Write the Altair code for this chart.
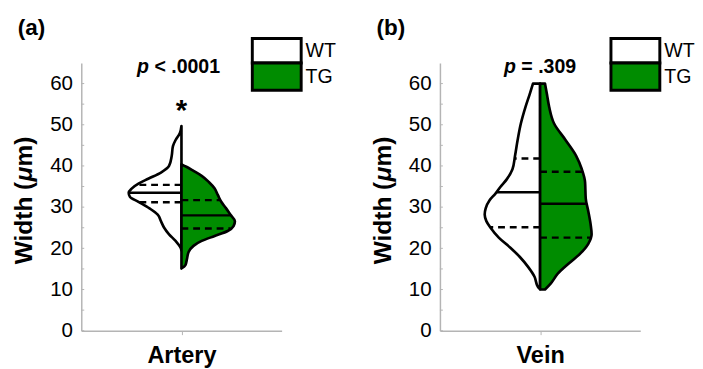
import altair as alt
import pandas as pd
import numpy as np

# ---------------- data ----------------
# Artery: violin half-profiles (value in µm, relative density width)
art_wt_v = [19.5, 20.2, 21.8, 23.4, 25.0, 26.6, 28.2, 29.7, 31.3, 32.5, 33.5, 34.5, 35.7, 36.9, 38.4, 40.0, 42.4, 44.8, 46.3, 47.9, 49.7]
art_wt_d = [0, 1, 6, 12.7, 17.7, 21, 24.3, 32.7, 44, 52.7, 54, 51, 44, 34, 21, 12.7, 10, 8.7, 6, 1.7, 0]
art_tg_v = [15.1, 15.9, 17.5, 19.1, 20.6, 21.8, 23.0, 24.2, 25.4, 26.6, 28.2, 29.7, 31.3, 32.9, 34.5, 36.1, 37.6, 38.8, 39.8, 40.4]
art_tg_d = [0, 4, 5.7, 7.3, 12.3, 20.7, 34, 47.3, 53.3, 54.7, 50, 45.7, 40.7, 37.3, 34, 28, 20.7, 12.3, 5, 0]
art_wt_q = [31.2, 33.5, 35.4]   # Q1, median, Q3
art_tg_q = [24.8, 28.0, 31.7]

# Vein
vein_wt_v = [10.1, 10.7, 13.1, 15.5, 17.9, 20.2, 22.6, 25.0, 26.6, 28.2, 29.7, 31.7, 33.3, 34.9, 36.8, 39.2, 42.4, 46.3, 50.3, 54.3, 57.4, 60.0]
vein_wt_d = [0, 2.3, 5.7, 12.3, 20.7, 30.7, 42.3, 50.7, 55, 56.7, 55.7, 51.7, 45.7, 40.7, 34, 28.3, 25.7, 23, 19.7, 15, 10.7, 7.3]
vein_tg_v = [10.0, 11.5, 13.9, 16.3, 18.7, 21.1, 23.4, 25.8, 29.0, 32.1, 36.1, 39.2, 42.4, 46.3, 50.3, 54.3, 57.4, 60.0]
vein_tg_d = [5, 11, 18.3, 29.3, 41, 49.3, 52.7, 51.7, 49.3, 46.7, 46, 42.7, 37, 26, 14.3, 9.3, 7, 5]
vein_wt_q = [25.1, 33.6, 41.8]
vein_tg_q = [22.6, 30.8, 38.6]

y_ticks = [0, 10, 20, 30, 40, 50, 60]
y_minor = [0, 5, 10, 15, 20, 25, 30, 35, 40, 45, 50, 55, 60]
groups = ["WT", "TG"]
group_colors = ["white", "#008c00"]

FONT = "Liberation Sans"
W, H = 205, 274
GRAY = "#b4b4b4"

yscale = alt.Scale(domain=[0, 65], nice=False, zero=True)
xscale = alt.Scale(domain=[-102.5, 102.5], nice=False, zero=False)

YAXIS = alt.Axis(values=y_ticks, grid=False, tickSize=0, labelPadding=9,
                 labelFontSize=21, labelFont=FONT, labelColor="black",
                 domainColor=GRAY, domainWidth=1.5, title=None)


def xaxis(cat):
    return alt.Axis(values=[0], labels=False, grid=False, tickSize=4,
                    tickColor=GRAY, domainColor=GRAY, domainWidth=1.5,
                    title=cat, titleFont=FONT, titleFontSize=24,
                    titleFontWeight="bold", titleColor="black", titlePadding=9)


def panel(tag, cat, wt_v, wt_d, tg_v, tg_d, wt_q, tg_q, p_op, star):
    XA = xaxis(cat)
    wt = pd.DataFrame({"v": wt_v, "x": [-d for d in wt_d]})
    tg = pd.DataFrame({"v": tg_v, "x": tg_d})

    def half(df, fill):
        return alt.Chart(df).mark_area(
            orient="horizontal", interpolate="monotone", fill=fill,
            stroke="black", strokeWidth=2.7, strokeJoin="round"
        ).encode(y=alt.Y("v:Q", scale=yscale, axis=YAXIS),
                 x=alt.X("x:Q", scale=xscale, axis=XA), x2=alt.datum(0))

    def qlines(q, v, d, sign):
        ends = [sign * float(np.interp(val, v, d)) for val in q]
        df = pd.DataFrame({"v": q, "x1": ends, "x": [0.0] * len(q), "kind": ["d", "m", "d"]})
        out = []
        for kind, dash in (("d", [7, 5]), ("m", [1, 0])):
            out.append(alt.Chart(df[df.kind == kind]).mark_rule(
                stroke="black", strokeWidth=2.5, strokeDash=dash
            ).encode(y=alt.Y("v:Q", scale=yscale, axis=YAXIS),
                     x=alt.X("x:Q", scale=xscale, axis=XA), x2="x1:Q"))
        return out

    minor = alt.Chart(pd.DataFrame({"v": y_minor})).mark_rule(
        stroke=GRAY, strokeWidth=1
    ).encode(y=alt.Y("v:Q", scale=yscale, axis=YAXIS), x=alt.value(0), x2=alt.value(3))

    def txt(s, x, y, size, weight="bold", style="normal", align="left", angle=0):
        return alt.Chart(pd.DataFrame({"s": [s]})).mark_text(
            font=FONT, fontSize=size, fontWeight=weight, fontStyle=style, align=align,
            baseline="middle", angle=angle, color="black"
        ).encode(text="s:N", x=alt.value(x), y=alt.value(y))

    # y-axis title with italic mu
    yt_x, yt_b, fs = -58, 206, 25
    ytitle = [
        txt("Width (", yt_x, yt_b, fs, angle=270),
        txt("\u03bc", yt_x, yt_b - 84.7, fs, style="italic", angle=270),
        txt("m)", yt_x, yt_b - 84.7 - 15.3, fs, angle=270),
    ]

    # p-value annotation
    p_start = 57 if star else 65.5
    ptxt = [txt("p", p_start, 4, 20, style="italic"), txt(p_op, p_start + 12.2 + 5.6, 4, 20)]

    extras = [txt(tag, -65, -36, 23)] + ytitle + ptxt
    if star:
        extras.append(alt.Chart(pd.DataFrame({"s": ["*"], "x": [0.0]})).mark_text(
            font=FONT, fontSize=30, fontWeight="bold", baseline="alphabetic", color="black"
        ).encode(text="s:N", x=alt.X("x:Q", scale=xscale, axis=XA), y=alt.value(58)))

    # legend boxes
    leg_rows = [(-25, 0), (0, 28)]
    legend = []
    for (y0, y1), g, c in zip(leg_rows, groups, group_colors):
        legend.append(alt.Chart(pd.DataFrame({"g": [g]})).mark_rect(
            fill=c, stroke="black", strokeWidth=3
        ).encode(x=alt.value(175), x2=alt.value(225), y=alt.value(y0), y2=alt.value(y1)))
        legend.append(txt(g, 229.5, (y0 + y1) / 2, 20, weight="normal"))

    layers = [half(wt, "white"), half(tg, "#008c00")]
    layers += qlines(wt_q, wt_v, wt_d, -1) + qlines(tg_q, tg_v, tg_d, 1)
    layers += [minor] + extras + legend
    return alt.layer(*layers).properties(width=W, height=H)


a = panel("(a)", "Artery", art_wt_v, art_wt_d, art_tg_v, art_tg_d, art_wt_q, art_tg_q, "< .0001", True)
b = panel("(b)", "Vein", vein_wt_v, vein_wt_d, vein_tg_v, vein_tg_d, vein_wt_q, vein_tg_q, "= .309", False)

chart = alt.hconcat(a, b, spacing=36).properties(
    padding={"left": 5, "top": 5, "right": 0, "bottom": 0}
).configure_view(stroke=None)

chart.save("out.html", embed_options={"renderer": "svg", "actions": False})
